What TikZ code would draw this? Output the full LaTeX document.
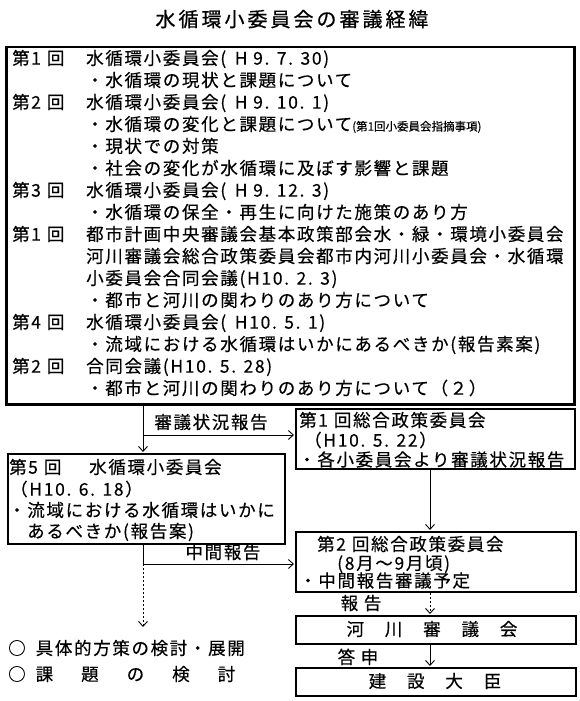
\documentclass[tikz,border=0pt]{standalone}
\usepackage{fontspec}
\setmainfont{Noto Sans CJK JP}[LetterSpace=9.5,FakeBold=0.4]
\newfontfamily\titlefont{Noto Sans CJK JP}[LetterSpace=15,FakeBold=0.6]
\newfontfamily\smallfont{Noto Sans CJK JP}[FakeBold=0.3]
\usetikzlibrary{arrows.meta}
\begin{document}
\begin{tikzpicture}[x=1pt,y=-1pt,
  box/.style={draw, line width=2.2pt, rectangle, inner sep=0pt, anchor=north west},
  txt/.style={inner sep=0pt, anchor=west, font=\fontsize{17.5}{21}\selectfont, text height=15.4pt, text depth=2.1pt},
  ctxt/.style={txt, anchor=center},
  conn/.style={line width=0.9pt, -{Straight Barb[length=5pt,width=9pt]}, shorten >=1pt},
  plain/.style={line width=0.9pt},
  dsh/.style={conn, dash pattern=on 2pt off 2pt}]
\useasboundingbox (0,0) rectangle (580,701);
% title
\node[ctxt, font=\fontsize{20}{22}\titlefont] (title) at (292,20) {水循環小委員会の審議経緯};
% boxes
\node[box, line width=2.5pt, minimum width=568pt, minimum height=357pt] (main) at (5,46) {};
\node[box, minimum width=279pt, minimum height=60pt] (r1) at (295,408) {};
\node[box, minimum width=277pt, minimum height=90pt] (b5) at (7,453) {};
\node[box, minimum width=280pt, minimum height=60pt] (r2) at (295,531) {};
\node[box, minimum width=280pt, minimum height=28pt] (r3) at (295,615) {};
\node[box, minimum width=280pt, minimum height=28pt] (r4) at (295,667) {};
% main box text
\node[txt] (h0) at (12,58) {第\hspace{1.5pt}1\hspace{6pt}回};
\node[txt] (c0) at (86,58) {水循環小委員会(\hspace{3pt} H 9. 7. 30)};
\node[txt] (c1) at (86,80) {・水循環の現状と課題について};
\node[txt] (h2) at (12,102) {第\hspace{1.5pt}2\hspace{6pt}回};
\node[txt] (c2) at (86,102) {水循環小委員会(\hspace{3pt} H 9. 10. 1)};
\node[txt] (c3) at (86,124) {・水循環の変化と課題について{\fontsize{11.5}{12}\smallfont (第1回小委員会指摘事項)}};
\node[txt] (c4) at (86,146) {・現状での対策};
\node[txt] (c5) at (86,168) {・社会の変化が水循環に及ぼす影響と課題};
\node[txt] (h6) at (12,190) {第\hspace{1.5pt}3\hspace{6pt}回};
\node[txt] (c6) at (86,190) {水循環小委員会(\hspace{3pt} H 9. 12. 3)};
\node[txt] (c7) at (86,212) {・水循環の保全・再生に向けた施策のあり方};
\node[txt] (h8) at (12,234) {第\hspace{1.5pt}1\hspace{6pt}回};
\node[txt] (c8) at (86,234) {都市計画中央審議会基本政策部会水・緑・環境小委員会};
\node[txt] (c9) at (86,256) {河川審議会総合政策委員会都市内河川小委員会・水循環};
\node[txt] (c10) at (86,278) {小委員会合同会議(H10. 2. 3)};
\node[txt] (c11) at (86,300) {・都市と河川の関わりのあり方について};
\node[txt] (h12) at (12,322) {第\hspace{1.5pt}4\hspace{6pt}回};
\node[txt] (c12) at (86,322) {水循環小委員会(\hspace{3pt} H10. 5. 1)};
\node[txt] (c13) at (86,344) {・流域における水循環はいかにあるべきか(報告素案)};
\node[txt] (h14) at (12,366) {第\hspace{1.5pt}2\hspace{6pt}回};
\node[txt] (c14) at (86,366) {合同会議(H10. 5. 28)};
\node[txt] (c15) at (86,388) {・都市と河川の関わりのあり方について（２）};
% right box 1
\node[txt] (r1a) at (299,420) {第\hspace{1.5pt}1\hspace{6pt}回総合政策委員会};
\node[txt] (r1b) at (304,440) {（H10. 5. 22）};
\node[txt] (r1c) at (298,459.5) {・各小委員会より審議状況報告};
% box 5
\node[txt] (b5a) at (9,467) {第\hspace{1.5pt}5\hspace{6pt}回};
\node[txt] (b5b) at (89,467) {水循環小委員会};
\node[txt] (b5c) at (10,489) {（H10. 6. 18）};
\node[txt] (b5d) at (8,510) {・流域における水循環はいかに};
\node[txt] (b5e) at (27,531) {あるべきか(報告案)};
% right box 2
\node[txt] (r2a) at (317,544) {第\hspace{1.5pt}2\hspace{6pt}回総合政策委員会};
\node[txt] (r2b) at (337,563) {(8月～9月頃)};
\node[txt] (r2c) at (299,580.5) {・中間報告審議予定};
% right boxes 3 and 4
\node[ctxt] (r3t) at (432,629) {河　川　審　議　会};
\node[ctxt] (r4t) at (435,681) {建　設　大　臣};
% labels
\node[ctxt] (l1) at (211,422) {審議状況報告};
\node[ctxt] (l2) at (223,552) {中間報告};
\node[ctxt] (l3) at (361,603) {報 告};
\node[ctxt] (l4) at (358,657) {答 申};
% bottom-left list
\node[txt] (o1) at (8,648) {○\hspace{10pt}具体的方策の検討・展開};
\node[txt] (o2) at (8,674) {○\hspace{10pt}課\hspace{28pt}題\hspace{28pt}の\hspace{28pt}検\hspace{28pt}討};
% connectors
\coordinate (j1) at (143,435);
\coordinate (j2) at (143,564);
\coordinate (k) at (430,0);
\coordinate (e) at (143,628);
\draw[conn] (main.south -| j1) -- (b5.north -| j1);
\draw[conn] (j1) -- (r1.west |- j1);
\draw[plain] (b5.south -| j2) -- (j2);
\draw[conn] (j2) -- (r2.west |- j2);
\draw[dsh] (j2) -- (e);
\draw[conn] (r1.south -| k) -- (r2.north -| k);
\draw[dsh] (r2.south -| k) -- (r3.north -| k);
\draw[conn] (r3.south -| k) -- (r4.north -| k);
\end{tikzpicture}
\end{document}
